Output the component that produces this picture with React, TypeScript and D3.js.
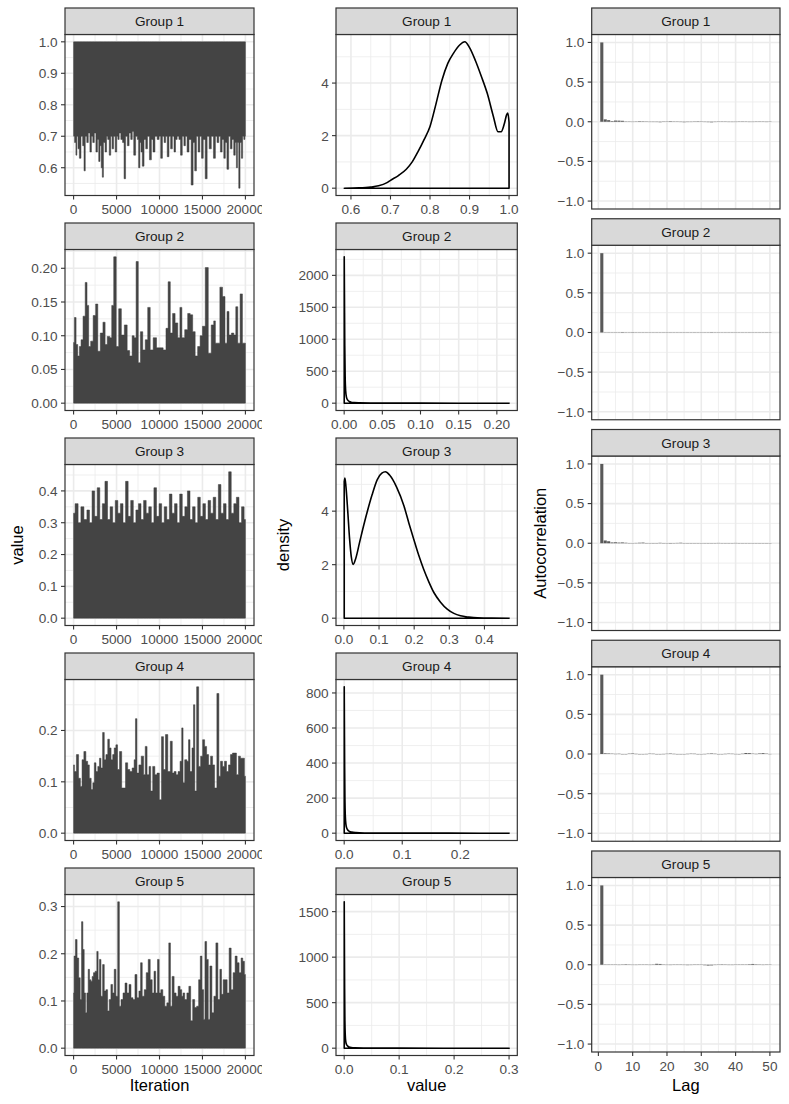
import React from 'react';
import * as d3 from 'd3';

const W = 789;
const H = 1104;
const FONT = "'Liberation Sans', Arial, Helvetica, sans-serif";
const FS = 13.6;
const TITLE_FS = 16.5;

const groupNames = ['Group 1', 'Group 2', 'Group 3', 'Group 4', 'Group 5'];

// ---------- trace plots: [iteration, value] envelope samples ----------
const trace1: [number, number][] = [
  [0, 0.70], [230, 0.68], [310, 0.64], [450, 0.70], [580, 0.66], [770, 0.63], [950, 0.70], [1160, 0.67], [1270, 0.59],
  [1450, 0.70], [1620, 0.68], [1800, 0.71], [2000, 0.65], [2150, 0.70], [2320, 0.68], [2500, 0.71], [2700, 0.65],
  [2850, 0.69], [3000, 0.62], [3150, 0.67], [3280, 0.60], [3400, 0.57], [3550, 0.68], [3780, 0.65], [3900, 0.70],
  [4050, 0.69], [4250, 0.64], [4400, 0.70], [4560, 0.66], [4750, 0.70], [4940, 0.65], [5100, 0.70], [5210, 0.69],
  [5400, 0.71], [5600, 0.69], [5800, 0.68], [5950, 0.565], [6150, 0.70], [6370, 0.67], [6550, 0.71], [6760, 0.69],
  [6900, 0.715], [7100, 0.64], [7340, 0.70], [7500, 0.69], [7640, 0.60], [7800, 0.68], [7900, 0.65], [8100, 0.605],
  [8300, 0.69], [8500, 0.66], [8700, 0.70], [8960, 0.625], [9150, 0.69], [9340, 0.65], [9600, 0.70], [9850, 0.69],
  [10050, 0.70], [10230, 0.63], [10450, 0.70], [10620, 0.68], [10800, 0.70], [11000, 0.635], [11200, 0.70],
  [11390, 0.66], [11600, 0.70], [11780, 0.65], [11950, 0.69], [12160, 0.70], [12350, 0.69], [12550, 0.64],
  [12750, 0.70], [12930, 0.67], [13100, 0.70], [13320, 0.65], [13550, 0.69], [13820, 0.545], [14000, 0.68],
  [14200, 0.59], [14400, 0.70], [14590, 0.65], [14800, 0.70], [14980, 0.63], [15200, 0.69], [15440, 0.565],
  [15650, 0.70], [15910, 0.66], [16150, 0.70], [16410, 0.63], [16600, 0.70], [16800, 0.68], [17000, 0.70],
  [17180, 0.65], [17400, 0.69], [17570, 0.63], [17750, 0.68], [17950, 0.595], [18150, 0.70], [18340, 0.66],
  [18550, 0.69], [18730, 0.64], [18900, 0.68], [19000, 0.60], [19150, 0.68], [19300, 0.535], [19450, 0.68],
  [19610, 0.63], [19750, 0.70], [19880, 0.69], [20000, 0.70],
];
const trace2: [number, number][] = [
  [0, 0.09], [193, 0.127], [386, 0.087], [579, 0.07], [772, 0.084], [965, 0.094], [1236, 0.129], [1467, 0.179],
  [1660, 0.145], [1853, 0.084], [2124, 0.092], [2432, 0.13], [2703, 0.147], [2934, 0.077], [3282, 0.104],
  [3552, 0.12], [3784, 0.087], [4054, 0.099], [4363, 0.097], [4517, 0.145], [4826, 0.217], [5097, 0.084],
  [5405, 0.14], [5714, 0.101], [6100, 0.116], [6371, 0.078], [6680, 0.07], [6950, 0.1], [7143, 0.097],
  [7413, 0.21], [7645, 0.06], [7915, 0.106], [8185, 0.079], [8494, 0.094], [8764, 0.142], [9073, 0.079],
  [9459, 0.097], [9846, 0.082], [10232, 0.082], [10618, 0.079], [10888, 0.111], [11120, 0.18], [11390, 0.104],
  [11660, 0.133], [11969, 0.119], [12278, 0.097], [12471, 0.142], [12741, 0.097], [13127, 0.109], [13436, 0.133],
  [13707, 0.131], [14015, 0.106], [14286, 0.07], [14595, 0.084], [14865, 0.1], [15135, 0.114], [15521, 0.201],
  [15830, 0.074], [16216, 0.116], [16409, 0.122], [16602, 0.089], [16873, 0.089], [17181, 0.172], [17490, 0.158],
  [17761, 0.089], [17954, 0.136], [18224, 0.101], [18533, 0.104], [18764, 0.101], [18996, 0.143], [19228, 0.089],
  [19537, 0.162], [19768, 0.089], [20000, 0.089],
];
const trace3: [number, number][] = [
  [0, 0.33], [350, 0.36], [700, 0.30], [1000, 0.35], [1400, 0.31], [1700, 0.34], [2000, 0.30], [2300, 0.40],
  [2600, 0.32], [2900, 0.41], [3200, 0.31], [3500, 0.36], [3800, 0.43], [4100, 0.31], [4400, 0.35], [4700, 0.30],
  [5000, 0.37], [5300, 0.33], [5600, 0.36], [5900, 0.30], [6200, 0.43], [6500, 0.32], [6800, 0.37], [7100, 0.30],
  [7400, 0.34], [7700, 0.36], [8000, 0.31], [8300, 0.37], [8600, 0.33], [8900, 0.35], [9200, 0.30], [9500, 0.41],
  [9800, 0.32], [10100, 0.36], [10400, 0.30], [10700, 0.35], [11000, 0.31], [11300, 0.39], [11600, 0.33],
  [11900, 0.36], [12200, 0.30], [12500, 0.39], [12800, 0.32], [13100, 0.35], [13400, 0.40], [13700, 0.31],
  [14000, 0.35], [14300, 0.30], [14600, 0.38], [14900, 0.32], [15200, 0.36], [15500, 0.31], [15800, 0.37],
  [16100, 0.33], [16400, 0.38], [16700, 0.31], [17000, 0.42], [17300, 0.33], [17600, 0.36], [17900, 0.31],
  [18200, 0.46], [18500, 0.33], [18800, 0.36], [19100, 0.38], [19400, 0.30], [19700, 0.35], [20000, 0.31],
];
const trace4: [number, number][] = [
  [0, 0.133], [193, 0.12], [463, 0.153], [695, 0.107], [888, 0.091], [1081, 0.143], [1313, 0.159], [1544, 0.14],
  [1737, 0.133], [1931, 0.107], [2162, 0.085], [2317, 0.098], [2510, 0.137], [2703, 0.12], [2934, 0.13],
  [3089, 0.146], [3282, 0.127], [3475, 0.196], [3668, 0.143], [3861, 0.153], [4093, 0.183], [4247, 0.166],
  [4479, 0.143], [4633, 0.153], [4826, 0.166], [5019, 0.172], [5212, 0.124], [5483, 0.159], [5714, 0.088],
  [5907, 0.088], [6178, 0.137], [6409, 0.124], [6680, 0.12], [6950, 0.127], [7143, 0.143], [7259, 0.223],
  [7490, 0.117], [7722, 0.133], [8031, 0.15], [8263, 0.114], [8417, 0.169], [8687, 0.114], [8880, 0.13],
  [9073, 0.082], [9344, 0.13], [9575, 0.114], [9846, 0.117], [10116, 0.065], [10347, 0.188], [10579, 0.124],
  [10811, 0.192], [11120, 0.12], [11390, 0.179], [11583, 0.117], [11815, 0.12], [12046, 0.114], [12278, 0.12],
  [12510, 0.14], [12664, 0.205], [12819, 0.098], [13050, 0.143], [13320, 0.14], [13436, 0.182], [13668, 0.12],
  [13900, 0.166], [14015, 0.25], [14208, 0.082], [14440, 0.285], [14672, 0.13], [14903, 0.15], [15135, 0.182],
  [15367, 0.169], [15598, 0.153], [15830, 0.133], [16062, 0.15], [16293, 0.133], [16525, 0.088], [16834, 0.272],
  [16988, 0.111], [17220, 0.14], [17452, 0.13], [17683, 0.14], [17915, 0.12], [18147, 0.133], [18378, 0.153],
  [18610, 0.156], [18842, 0.156], [19073, 0.114], [19305, 0.15], [19537, 0.146], [19768, 0.146], [20000, 0.111],
];
const trace5: [number, number][] = [
  [0, 0.117], [116, 0.195], [309, 0.23], [502, 0.191], [695, 0.149], [849, 0.103], [1004, 0.268], [1158, 0.209],
  [1313, 0.117], [1467, 0.075], [1622, 0.117], [1776, 0.167], [1931, 0.145], [2085, 0.142], [2239, 0.152],
  [2394, 0.16], [2625, 0.163], [2780, 0.205], [2934, 0.145], [3089, 0.188], [3282, 0.11], [3475, 0.177],
  [3668, 0.121], [3861, 0.124], [4054, 0.079], [4247, 0.103], [4440, 0.135], [4633, 0.117], [4826, 0.167],
  [5019, 0.11], [5251, 0.31], [5405, 0.089], [5637, 0.103], [5869, 0.117], [6100, 0.138], [6332, 0.117],
  [6564, 0.135], [6795, 0.107], [7027, 0.103], [7259, 0.156], [7490, 0.107], [7722, 0.121], [7876, 0.181],
  [8108, 0.11], [8340, 0.124], [8571, 0.16], [8803, 0.188], [9035, 0.145], [9266, 0.117], [9459, 0.163],
  [9653, 0.117], [9884, 0.188], [10039, 0.117], [10270, 0.124], [10502, 0.11], [10734, 0.089], [10965, 0.096],
  [11197, 0.223], [11351, 0.089], [11583, 0.152], [11815, 0.117], [12046, 0.11], [12278, 0.131], [12510, 0.124],
  [12664, 0.11], [12819, 0.117], [13050, 0.103], [13320, 0.117], [13514, 0.131], [13745, 0.058], [13977, 0.103],
  [14208, 0.086], [14440, 0.089], [14672, 0.145], [14826, 0.195], [15058, 0.124], [15212, 0.061], [15367, 0.226],
  [15598, 0.188], [15753, 0.061], [15985, 0.174], [16216, 0.075], [16448, 0.11], [16680, 0.223], [16911, 0.103],
  [17143, 0.167], [17297, 0.114], [17529, 0.145], [17761, 0.145], [17992, 0.117], [18224, 0.212], [18456, 0.124],
  [18687, 0.16], [18919, 0.195], [19151, 0.181], [19382, 0.16], [19614, 0.191], [19768, 0.184], [20000, 0.156],
];
const traceSeries = [trace1, trace2, trace3, trace4, trace5];
// opposite edge of the dense trace band (group 1 is pinned at 1.0, others at 0.0)
const traceEdge = [1.0, 0.0, 0.0, 0.0, 0.0];
const traceXTicks = [0, 5000, 10000, 15000, 20000];
const traceYTicks = [
  [0.6, 0.7, 0.8, 0.9, 1.0],
  [0, 0.05, 0.1, 0.15, 0.2],
  [0, 0.1, 0.2, 0.3, 0.4],
  [0, 0.1, 0.2],
  [0, 0.1, 0.2, 0.3],
];
const traceYDigits = [1, 2, 1, 1, 1];

// ---------- density curves: [value, density] ----------
const dens1: [number, number][] = [
  [0.583, 0], [0.62, 0.01], [0.65, 0.04], [0.67, 0.09], [0.69, 0.2], [0.70, 0.3], [0.72, 0.48], [0.74, 0.72],
  [0.755, 1.0], [0.77, 1.4], [0.785, 1.85], [0.80, 2.35], [0.815, 3.2], [0.83, 4.1], [0.845, 4.75], [0.86, 5.15],
  [0.875, 5.45], [0.888, 5.57], [0.90, 5.35], [0.915, 4.85], [0.93, 4.25], [0.945, 3.6], [0.96, 2.75],
  [0.972, 2.15], [0.98, 2.15], [0.988, 2.45], [0.994, 2.8], [0.997, 2.86], [1.0, 2.5],
];
const dens2: [number, number][] = [
  [0.0001, 2290], [0.0004, 1700], [0.0008, 900], [0.0013, 420], [0.002, 190], [0.003, 95], [0.0045, 50],
  [0.0065, 28], [0.009, 16], [0.013, 9], [0.02, 5], [0.035, 2], [0.06, 0.8], [0.1, 0.3], [0.15, 0.1], [0.216, 0],
];
const dens3: [number, number][] = [
  [0.001, 5.1], [0.003, 5.24], [0.006, 4.9], [0.011, 4.0], [0.016, 3.0], [0.021, 2.3], [0.0265, 2.01], [0.033, 2.2],
  [0.045, 2.85], [0.057, 3.5], [0.068, 4.05], [0.08, 4.6], [0.095, 5.18], [0.108, 5.42], [0.118, 5.47],
  [0.13, 5.35], [0.15, 4.9], [0.171, 4.19], [0.185, 3.55], [0.199, 2.94], [0.213, 2.35], [0.227, 1.83],
  [0.242, 1.35], [0.256, 0.96], [0.275, 0.6], [0.294, 0.34], [0.313, 0.18], [0.332, 0.09], [0.355, 0.04],
  [0.38, 0.01], [0.42, 0.002], [0.47, 0],
];
const dens4: [number, number][] = [
  [0.0001, 835], [0.0004, 640], [0.0008, 380], [0.0013, 190], [0.002, 95], [0.003, 50], [0.0045, 28], [0.0065, 17],
  [0.009, 10], [0.013, 6], [0.02, 3.2], [0.035, 1.3], [0.06, 0.5], [0.1, 0.2], [0.18, 0.05], [0.284, 0],
];
const dens5: [number, number][] = [
  [0.0001, 1608], [0.0004, 1200], [0.0008, 650], [0.0013, 300], [0.002, 140], [0.003, 70], [0.0045, 38],
  [0.0065, 22], [0.009, 13], [0.013, 7], [0.02, 3.6], [0.035, 1.5], [0.06, 0.6], [0.1, 0.2], [0.18, 0.05], [0.30, 0],
];
const densSeries = [dens1, dens2, dens3, dens4, dens5];
const densXTicks = [
  [0.6, 0.7, 0.8, 0.9, 1.0],
  [0, 0.05, 0.1, 0.15, 0.2],
  [0, 0.1, 0.2, 0.3, 0.4],
  [0, 0.1, 0.2],
  [0, 0.1, 0.2, 0.3],
];
const densXDigits = [1, 2, 1, 1, 1];
const densYTicks = [
  [0, 2, 4],
  [0, 500, 1000, 1500, 2000],
  [0, 2, 4],
  [0, 200, 400, 600, 800],
  [0, 500, 1000, 1500],
];

// ---------- autocorrelation, lags 1..50 ----------
const acf1 = [1.0, 0.03, 0.02, 0.008, 0.015, 0.014, 0.012, 0.004, 0.002, 0.0, 0.003, 0.006, 0.005, 0.001, -0.002, 0.0,
  -0.004, -0.006, 0.002, 0.004, 0.006, 0.003, 0.001, -0.003, -0.006, -0.004, -0.002, 0.003, 0.005, 0.004, -0.002,
  -0.005, -0.007, -0.003, 0.002, 0.004, 0.003, -0.002, -0.004, -0.001, 0.002, 0.004, 0.001, -0.003, -0.002, 0.002,
  0.003, 0.001, -0.002, 0.001];
const acf2 = [1.0, 0.002, -0.001, 0.001, 0.003, -0.002, 0.006, 0.004, -0.003, -0.005, -0.002, 0.001, -0.004, -0.003,
  0.002, 0.001, -0.002, 0.0, -0.003, -0.004, 0.002, 0.003, -0.001, -0.002, 0.004, 0.002, -0.003, -0.004, -0.002,
  0.001, 0.003, 0.002, -0.005, -0.003, 0.002, 0.001, -0.002, 0.003, 0.004, 0.002, -0.002, -0.001, 0.003, 0.004,
  0.001, -0.003, -0.002, 0.001, -0.002, -0.001];
const acf3 = [1.0, 0.035, 0.025, 0.01, 0.012, 0.008, 0.01, 0.006, 0.003, 0.001, 0.004, 0.006, 0.008, 0.003, -0.002,
  -0.004, 0.002, 0.005, 0.003, -0.003, -0.005, 0.001, 0.004, 0.006, 0.002, -0.003, -0.004, 0.001, 0.003, 0.002,
  -0.002, -0.004, -0.003, 0.002, 0.004, 0.003, -0.001, -0.003, 0.002, 0.004, 0.002, -0.002, -0.003, 0.001, 0.003,
  0.002, -0.001, 0.002, 0.003, 0.001];
const acf4 = [1.0, 0.008, 0.006, 0.004, 0.002, 0.003, 0.0, -0.002, 0.004, 0.006, 0.002, -0.003, -0.002, 0.001, 0.004,
  0.003, -0.002, -0.004, 0.001, 0.003, 0.005, 0.002, -0.001, -0.003, -0.004, 0.002, 0.004, 0.003, -0.002, -0.003,
  0.001, 0.004, 0.006, 0.003, -0.002, -0.003, 0.002, 0.004, 0.003, 0.001, -0.002, 0.003, 0.012, 0.01, 0.004, 0.002,
  0.006, 0.01, 0.004, 0.001];
const acf5 = [1.0, 0.004, 0.002, 0.003, 0.001, -0.002, 0.004, 0.006, 0.002, -0.003, -0.002, 0.001, 0.003, 0.002,
  -0.002, 0.004, 0.012, 0.01, 0.003, -0.002, -0.004, 0.001, 0.003, 0.002, -0.003, -0.005, -0.004, 0.002, 0.004,
  0.001, -0.006, -0.01, -0.008, -0.003, 0.003, 0.005, 0.002, -0.002, -0.004, 0.001, 0.003, 0.004, 0.002, 0.006,
  0.01, 0.005, 0.001, -0.002, 0.001, 0.002];
const acfSeries = [acf1, acf2, acf3, acf4, acf5];
const acfXTicks = [0, 10, 20, 30, 40, 50];
const acfYTicks = [-1, -0.5, 0, 0.5, 1];

// ---------- helpers ----------
function expand(lo: number, hi: number): [number, number] {
  const d = (hi - lo) * 0.05;
  return [lo - d, hi + d];
}
function minors(major: number[], dom: [number, number]): number[] {
  const step = major[1] - major[0];
  const out: number[] = [];
  for (let v = major[0] - step / 2; v <= major[major.length - 1] + step / 2 + 1e-12; v += step) {
    if (v >= dom[0] && v <= dom[1]) out.push(v);
  }
  return out;
}
function fmt(v: number, digits: number): string {
  const s = Math.abs(v).toFixed(digits);
  return v < -1e-12 ? '\u2212' + s : s;
}

const TICK_COL = '#4D4D4D';
const DARK = '#333333';
const GRID = '#EBEBEB';

type Scale = d3.ScaleLinear<number, number>;

interface PanelProps {
  id: string;
  x0: number;
  x1: number;
  stripTop: number;
  panelTop: number;
  panelBottom: number;
  label: string;
  xs: Scale;
  ys: Scale;
  xTicks: number[];
  yTicks: number[];
  xDigits: number;
  yDigits: number;
  showX: boolean;
  xClip?: string;
  children: React.ReactNode;
}

function Panel(p: PanelProps) {
  const xd = p.xs.domain() as [number, number];
  const yd = p.ys.domain() as [number, number];
  const xMin = minors(p.xTicks, xd);
  const yMin = minors(p.yTicks, yd);
  return (
    <g>
      <defs>
        <clipPath id={p.id}>
          <rect x={p.x0} y={p.panelTop} width={p.x1 - p.x0} height={p.panelBottom - p.panelTop} />
        </clipPath>
      </defs>
      <rect x={p.x0} y={p.panelTop} width={p.x1 - p.x0} height={p.panelBottom - p.panelTop} fill="#fff" />
      {xMin.map((v, i) => (
        <line key={'xm' + i} x1={p.xs(v)} x2={p.xs(v)} y1={p.panelTop} y2={p.panelBottom} stroke={GRID} strokeWidth={0.8} />
      ))}
      {yMin.map((v, i) => (
        <line key={'ym' + i} x1={p.x0} x2={p.x1} y1={p.ys(v)} y2={p.ys(v)} stroke={GRID} strokeWidth={0.8} />
      ))}
      {p.xTicks.map((v, i) => (
        <line key={'xM' + i} x1={p.xs(v)} x2={p.xs(v)} y1={p.panelTop} y2={p.panelBottom} stroke={GRID} strokeWidth={1.6} />
      ))}
      {p.yTicks.map((v, i) => (
        <line key={'yM' + i} x1={p.x0} x2={p.x1} y1={p.ys(v)} y2={p.ys(v)} stroke={GRID} strokeWidth={1.6} />
      ))}
      <g clipPath={`url(#${p.id})`}>{p.children}</g>
      <rect x={p.x0} y={p.panelTop} width={p.x1 - p.x0} height={p.panelBottom - p.panelTop} fill="none" stroke={DARK} strokeWidth={1.2} />
      <rect x={p.x0} y={p.stripTop} width={p.x1 - p.x0} height={p.panelTop - p.stripTop} fill="#D9D9D9" stroke={DARK} strokeWidth={1.2} />
      <text x={(p.x0 + p.x1) / 2} y={(p.stripTop + p.panelTop) / 2 + 4.8} textAnchor="middle" fontSize={FS} fill="#1A1A1A" fontFamily={FONT}>
        {p.label}
      </text>
      {p.yTicks.map((v, i) => (
        <g key={'yt' + i}>
          <line x1={p.x0 - 4} x2={p.x0} y1={p.ys(v)} y2={p.ys(v)} stroke={DARK} strokeWidth={1.1} />
          <text x={p.x0 - 7.3} y={p.ys(v)} dy="0.36em" textAnchor="end" fontSize={FS} fill={TICK_COL} fontFamily={FONT}>
            {fmt(v, p.yDigits)}
          </text>
        </g>
      ))}
      {p.showX && (
        <g clipPath={p.xClip ? `url(#${p.xClip})` : undefined}>
          {p.xTicks.map((v, i) => (
            <g key={'xt' + i}>
              <line x1={p.xs(v)} x2={p.xs(v)} y1={p.panelBottom} y2={p.panelBottom + 4} stroke={DARK} strokeWidth={1.1} />
              <text x={p.xs(v)} y={p.panelBottom + 18.8} textAnchor="middle" fontSize={FS} fill={TICK_COL} fontFamily={FONT}>
                {fmt(v, p.xDigits)}
              </text>
            </g>
          ))}
        </g>
      )}
    </g>
  );
}

// layout
const COL1: [number, number] = [65, 254];
const COL2: [number, number] = [336, 517.3];
const COL3: [number, number] = [591.7, 780];
const STRIP_H = 26.5;
const rowTop12 = (i: number) => 8 + 215 * i;
const rowTop3 = (i: number) => 8 + 210.75 * i;

export default function App() {
  const tracePanels = groupNames.map((name, gi) => {
    const data = traceSeries[gi];
    const st = rowTop12(gi);
    const pt = st + STRIP_H;
    const pb = st + 187.5;
    const ext = d3.extent(data, (d) => d[0]) as [number, number];
    const vals = data.map((d) => d[1]).concat([traceEdge[gi]]);
    const xs = d3.scaleLinear().domain(expand(ext[0], ext[1])).range(COL1);
    const ys = d3.scaleLinear().domain(expand(d3.min(vals)!, d3.max(vals)!)).range([pb, pt]);
    const area = d3
      .area<[number, number]>()
      .x((d) => xs(d[0]))
      .y0(ys(traceEdge[gi]))
      .y1((d) => ys(d[1]))
      .curve(d3.curveStep);
    return (
      <Panel key={'t' + gi} id={'clipT' + gi} x0={COL1[0]} x1={COL1[1]} stripTop={st} panelTop={pt} panelBottom={pb}
        label={name} xs={xs} ys={ys} xTicks={traceXTicks} yTicks={traceYTicks[gi]} xDigits={0}
        yDigits={traceYDigits[gi]} showX={true} xClip="col1clip">
        <path d={area(data) || ''} fill="#444444" stroke="#3d3d3d" strokeWidth={0.5} />
      </Panel>
    );
  });

  const densPanels = groupNames.map((name, gi) => {
    const data = densSeries[gi];
    const st = rowTop12(gi);
    const pt = st + STRIP_H;
    const pb = st + 187.5;
    const ext = d3.extent(data, (d) => d[0]) as [number, number];
    const ymax = d3.max(data, (d) => d[1])!;
    const xs = d3.scaleLinear().domain(expand(ext[0], ext[1])).range(COL2);
    const ys = d3.scaleLinear().domain(expand(0, ymax)).range([pb, pt]);
    const line = d3
      .line<[number, number]>()
      .x((d) => xs(d[0]))
      .y((d) => ys(d[1]))
      .curve(d3.curveMonotoneX);
    const d = (line(data) || '') + `L${xs(ext[1])},${ys(0)}L${xs(ext[0])},${ys(0)}Z`;
    return (
      <Panel key={'d' + gi} id={'clipD' + gi} x0={COL2[0]} x1={COL2[1]} stripTop={st} panelTop={pt} panelBottom={pb}
        label={name} xs={xs} ys={ys} xTicks={densXTicks[gi]} yTicks={densYTicks[gi]} xDigits={densXDigits[gi]}
        yDigits={0} showX={true}>
        <path d={d} fill="none" stroke="#000" strokeWidth={1.6} strokeLinejoin="round" />
      </Panel>
    );
  });

  const acfPanels = groupNames.map((name, gi) => {
    const data = acfSeries[gi];
    const st = rowTop3(gi);
    const pt = st + STRIP_H;
    const pb = st + 201;
    const barW = 0.9;
    const xs = d3.scaleLinear().domain(expand(1 - barW / 2, data.length + barW / 2)).range(COL3);
    const ys = d3.scaleLinear().domain(expand(-1, 1)).range([pb, pt]);
    return (
      <Panel key={'a' + gi} id={'clipA' + gi} x0={COL3[0]} x1={COL3[1]} stripTop={st} panelTop={pt} panelBottom={pb}
        label={name} xs={xs} ys={ys} xTicks={acfXTicks} yTicks={acfYTicks} xDigits={0} yDigits={1} showX={gi === 4}>
        {data.map((v, li) => {
          const lag = li + 1;
          const y0 = ys(0);
          const y1 = ys(v);
          return (
            <rect key={li} x={xs(lag - barW / 2)} width={xs(lag + barW / 2) - xs(lag - barW / 2)}
              y={Math.min(y0, y1)} height={Math.max(Math.abs(y1 - y0), 0.3)} fill="#595959" />
          );
        })}
      </Panel>
    );
  });

  const yMid12 = (rowTop12(0) + STRIP_H + rowTop12(4) + 187.5) / 2;
  const yMid3 = (rowTop3(0) + STRIP_H + rowTop3(4) + 201) / 2;

  return (
    <svg width={W} height={H} viewBox={`0 0 ${W} ${H}`} style={{ position: 'absolute', left: 0, top: 0, background: '#fff' }}>
      <defs>
        <clipPath id="col1clip">
          <rect x={0} y={0} width={262} height={H} />
        </clipPath>
      </defs>
      <rect x={0} y={0} width={W} height={H} fill="#fff" />
      {tracePanels}
      {densPanels}
      {acfPanels}
      <text x={(COL1[0] + COL1[1]) / 2} y={1091} textAnchor="middle" fontSize={TITLE_FS} fontFamily={FONT} fill="#000">Iteration</text>
      <text x={(COL2[0] + COL2[1]) / 2} y={1091} textAnchor="middle" fontSize={TITLE_FS} fontFamily={FONT} fill="#000">value</text>
      <text x={(COL3[0] + COL3[1]) / 2} y={1091} textAnchor="middle" fontSize={TITLE_FS} fontFamily={FONT} fill="#000">Lag</text>
      <text transform={`translate(17,${yMid12}) rotate(-90)`} dy="0.36em" textAnchor="middle" fontSize={TITLE_FS} fontFamily={FONT} fill="#000">value</text>
      <text transform={`translate(283,${yMid12}) rotate(-90)`} dy="0.36em" textAnchor="middle" fontSize={TITLE_FS} fontFamily={FONT} fill="#000">density</text>
      <text transform={`translate(540,${yMid3}) rotate(-90)`} dy="0.36em" textAnchor="middle" fontSize={TITLE_FS} fontFamily={FONT} fill="#000">Autocorrelation</text>
    </svg>
  );
}
